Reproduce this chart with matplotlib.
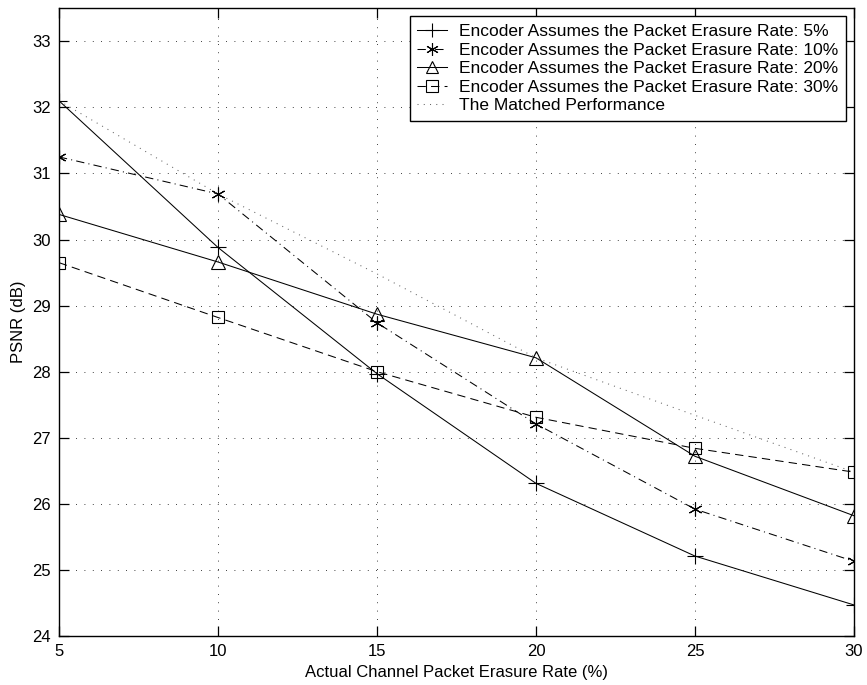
import numpy as np
import matplotlib.pyplot as plt

plt.rcParams['font.family'] = ['Liberation Sans', 'DejaVu Sans']

# actual channel packet erasure rate (%)
erasure = [5, 10, 15, 20, 25, 30]

# PSNR (dB) for each assumed erasure rate at the encoder
psnr_5 = [32.10, 29.88, 27.97, 26.31, 25.21, 24.47]
psnr_10 = [31.25, 30.69, 28.74, 27.21, 25.92, 25.13]
psnr_20 = [30.38, 29.66, 28.87, 28.21, 26.72, 25.82]
psnr_30 = [29.65, 28.82, 28.00, 27.31, 26.84, 26.48]
psnr_matched = [32.10, 30.69, 29.48, 28.21, 27.34, 26.48]

labels = ['Encoder Assumes the Packet Erasure Rate: 5%',
          'Encoder Assumes the Packet Erasure Rate: 10%',
          'Encoder Assumes the Packet Erasure Rate: 20%',
          'Encoder Assumes the Packet Erasure Rate: 30%',
          'The Matched Performance']

fig = plt.figure(figsize=(8.67, 6.85), dpi=100)
ax = fig.add_axes([0.068, 0.0715, 0.917, 0.9165])

lw = 0.75
ax.plot(erasure, psnr_5, color='k', lw=lw, ls='-', marker='+', ms=11,
        mew=0.8, label=labels[0])
ax.plot(erasure, psnr_10, color='k', lw=lw, ls=(0, (8, 4, 1, 4)),
        marker=(6, 2, 0), ms=10, mew=0.8, label=labels[1])
ax.plot(erasure, psnr_20, color='k', lw=lw, ls='-', marker='^', ms=10,
        mew=0.8, mfc='none', label=labels[2])
ax.plot(erasure, psnr_30, color='k', lw=lw, ls=(0, (8, 5)), marker='s', ms=9,
        mew=0.8, mfc='none', label=labels[3])
ax.plot(erasure, psnr_matched, color='0.4', lw=lw, ls=(0, (1, 5)),
        label=labels[4])

ax.set_xlim(5, 30)
ax.set_ylim(24, 33.5)
ax.set_xticks(np.arange(5, 31, 5))
ax.set_yticks(np.arange(24, 34, 1))
ax.grid(True, color='k', lw=0.6, ls=(0, (1, 9)))
ax.tick_params(direction='in', length=7, width=0.9, top=True, right=True,
               labelsize=12, pad=6)
for s in ax.spines.values():
    s.set_linewidth(1.0)

ax.set_xlabel('Actual Channel Packet Erasure Rate (%)', fontsize=12, labelpad=4)
ax.set_ylabel('PSNR (dB)', fontsize=12, labelpad=4)

leg = ax.legend(loc='upper right', fontsize=12.5, handlelength=1.7,
                handletextpad=0.7, labelspacing=0.2, borderpad=0.45,
                borderaxespad=0.45, fancybox=False, edgecolor='k',
                framealpha=1, markerscale=0.9)
leg.get_frame().set_linewidth(1.0)

fig.savefig('out.png', dpi=100)
